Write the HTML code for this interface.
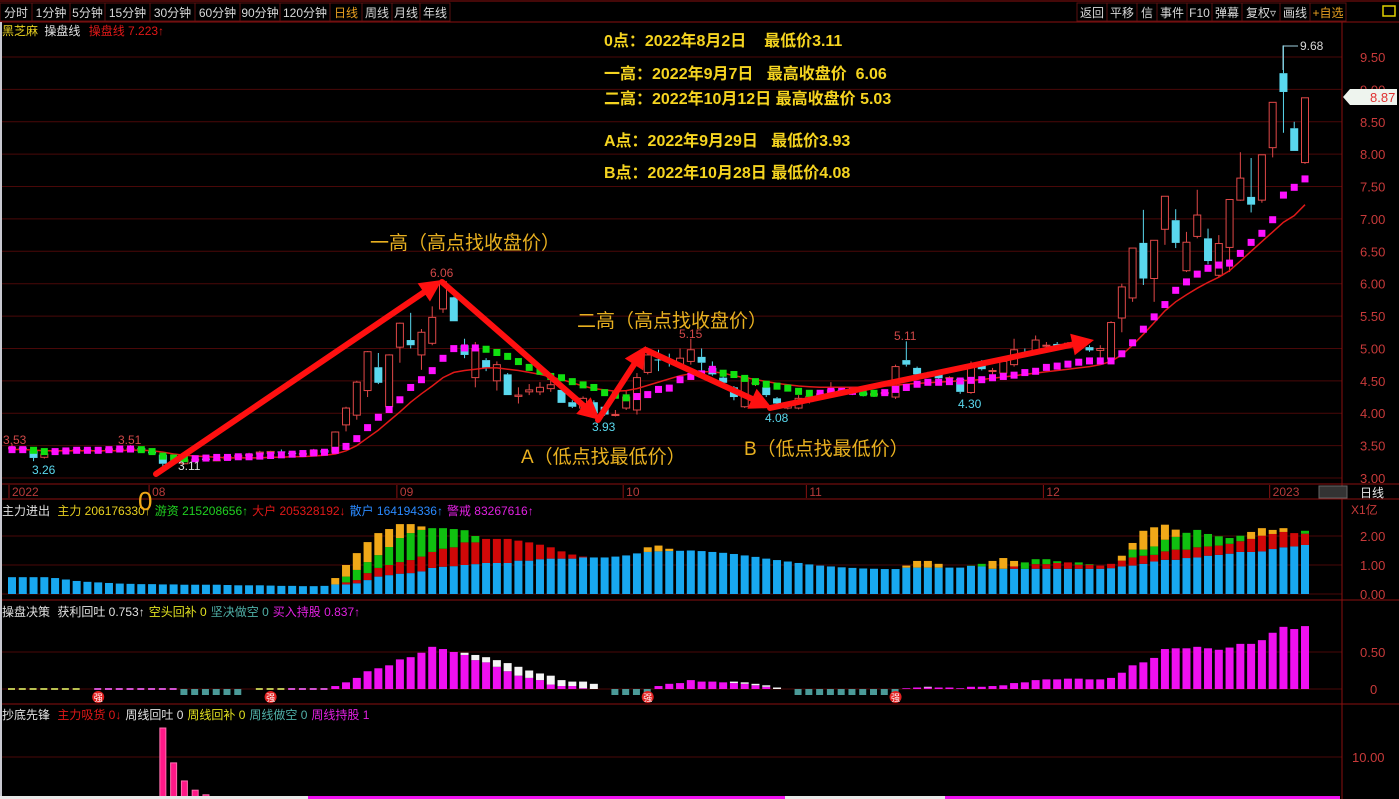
<!DOCTYPE html>
<html><head><meta charset="utf-8">
<style>
html,body{margin:0;padding:0;background:#000;width:1399px;height:799px;overflow:hidden;}
svg{display:block;font-family:"Liberation Sans","Noto Sans CJK SC",sans-serif;}
</style></head>
<body>
<svg id="chart" width="1399" height="799" viewBox="0 0 1399 799">
<rect x="0" y="0" width="1399" height="799" fill="#000"/>
<g id="grid"></g>
<g id="toolbar"></g>
<g id="candles"></g>
<g id="lines"></g>
<g id="p2"></g>
<g id="p3"></g>
<g id="p4"></g>
<g id="anno"></g>
</svg>
<script>
// ---------- data ----------
const opens=[3.45,3.47,3.42,3.32,3.41,3.42,3.43,3.44,3.42,3.42,3.44,3.44,3.46,3.41,3.36,3.24,3.22,3.28,3.30,3.28,3.29,3.33,3.35,3.37,3.38,3.41,3.39,3.37,3.36,3.43,3.40,3.82,3.97,4.35,4.71,4.10,5.02,5.13,4.90,5.08,5.61,5.79,5.05,4.55,4.82,4.50,4.60,4.26,4.33,4.33,4.38,4.36,4.17,4.08,4.17,4.10,3.97,4.08,4.05,4.63,4.83,4.82,4.75,4.80,4.87,4.70,4.55,4.40,4.10,4.47,4.40,4.23,4.08,4.08,4.18,4.26,4.32,4.36,4.32,4.32,4.28,4.30,4.25,4.82,4.70,4.60,4.60,4.54,4.53,4.32,4.76,4.65,4.62,4.75,4.92,4.95,5.05,5.07,5.03,5.00,5.02,4.97,4.84,5.47,5.78,6.63,6.08,6.84,6.98,6.20,6.73,6.70,6.13,6.56,7.29,7.34,7.29,8.10,9.25,8.40,7.87];
const highs=[3.53,3.48,3.43,3.40,3.44,3.45,3.45,3.45,3.44,3.47,3.48,3.51,3.48,3.42,3.37,3.28,3.30,3.31,3.31,3.31,3.35,3.36,3.39,3.42,3.42,3.44,3.41,3.40,3.45,3.44,3.72,4.10,4.50,4.96,4.93,4.91,5.40,5.55,5.30,5.65,6.06,5.80,5.15,5.10,4.85,4.80,4.62,4.40,4.45,4.48,4.52,4.38,4.20,4.26,4.20,4.12,4.05,4.35,4.62,5.00,4.98,4.92,5.00,5.15,5.00,4.80,4.58,4.42,4.58,4.52,4.45,4.25,4.18,4.28,4.30,4.32,4.48,4.40,4.38,4.36,4.34,4.34,4.75,5.11,4.72,4.64,4.62,4.57,4.55,4.80,4.82,4.70,4.82,5.15,5.00,5.20,5.10,5.10,5.10,5.06,5.05,5.05,5.42,6.00,6.55,7.14,6.67,7.35,7.15,6.80,7.45,6.85,6.75,7.30,8.03,7.94,7.99,8.80,9.68,8.50,8.87];
const lows=[3.43,3.41,3.26,3.30,3.39,3.40,3.41,3.41,3.39,3.41,3.42,3.43,3.40,3.37,3.11,3.20,3.21,3.25,3.27,3.26,3.28,3.31,3.33,3.35,3.36,3.39,3.36,3.35,3.35,3.38,3.39,3.72,3.90,4.25,4.45,4.05,4.78,5.00,4.67,5.05,5.55,5.42,4.85,4.40,4.65,4.35,4.28,4.15,4.28,4.28,4.33,4.16,4.08,4.05,3.93,3.96,3.95,4.05,3.98,4.60,4.65,4.72,4.70,4.75,4.65,4.58,4.45,4.20,4.08,4.42,4.25,4.08,4.06,4.06,4.15,4.24,4.30,4.30,4.28,4.26,4.25,4.27,4.22,4.72,4.58,4.55,4.52,4.50,4.30,4.30,4.66,4.60,4.60,4.72,4.88,4.92,4.98,4.98,5.00,4.96,4.95,4.85,4.84,5.25,5.72,5.98,5.72,6.60,6.55,6.18,6.70,6.30,6.10,6.18,7.28,7.10,7.25,7.95,8.33,8.05,7.85];
const closes=[3.47,3.43,3.31,3.37,3.42,3.43,3.44,3.42,3.41,3.45,3.45,3.46,3.41,3.38,3.22,3.25,3.28,3.29,3.28,3.28,3.33,3.35,3.36,3.40,3.41,3.40,3.37,3.38,3.43,3.39,3.71,4.08,4.48,4.95,4.47,4.90,5.39,5.05,5.25,5.48,6.03,5.42,4.90,5.00,4.70,4.75,4.28,4.28,4.36,4.40,4.44,4.16,4.10,4.23,4.00,3.98,3.98,4.25,4.55,4.90,4.82,4.80,4.85,4.98,4.78,4.60,4.47,4.25,4.55,4.47,4.28,4.15,4.15,4.23,4.26,4.30,4.36,4.33,4.35,4.28,4.30,4.32,4.72,4.75,4.60,4.62,4.54,4.55,4.33,4.75,4.68,4.66,4.80,4.98,4.90,5.13,5.05,5.02,5.08,5.02,4.97,5.00,5.40,5.95,6.55,6.08,6.67,7.35,6.63,6.64,7.06,6.35,6.62,7.30,7.63,7.22,7.99,8.80,8.96,8.05,8.87];
const fastLine=[3.43,3.43,3.42,3.40,3.40,3.41,3.42,3.42,3.42,3.43,3.44,3.44,3.43,3.40,3.33,3.30,3.29,3.29,3.30,3.31,3.31,3.32,3.32,3.33,3.34,3.35,3.36,3.37,3.38,3.39,3.42,3.48,3.60,3.77,3.93,4.05,4.20,4.39,4.51,4.65,4.84,4.99,5.00,5.00,4.98,4.93,4.87,4.79,4.70,4.64,4.56,4.54,4.48,4.43,4.39,4.31,4.27,4.23,4.25,4.28,4.36,4.38,4.51,4.56,4.60,4.67,4.61,4.59,4.53,4.48,4.44,4.41,4.38,4.33,4.30,4.30,4.33,4.33,4.33,4.31,4.30,4.31,4.36,4.39,4.44,4.47,4.47,4.48,4.49,4.50,4.51,4.54,4.56,4.58,4.62,4.64,4.70,4.72,4.75,4.78,4.80,4.80,4.80,4.91,5.08,5.29,5.48,5.67,5.89,6.02,6.14,6.23,6.28,6.31,6.46,6.63,6.77,6.98,7.36,7.48,7.61];
const slowLine=[3.44,3.44,3.43,3.42,3.42,3.42,3.42,3.42,3.42,3.42,3.42,3.43,3.43,3.42,3.40,3.37,3.35,3.34,3.33,3.32,3.31,3.31,3.31,3.31,3.32,3.32,3.33,3.33,3.34,3.35,3.37,3.42,3.50,3.62,3.74,3.88,4.02,4.17,4.30,4.42,4.55,4.63,4.66,4.68,4.70,4.70,4.68,4.66,4.63,4.60,4.56,4.52,4.47,4.42,4.38,4.36,4.34,4.35,4.38,4.43,4.48,4.53,4.58,4.61,4.64,4.64,4.62,4.58,4.55,4.52,4.49,4.46,4.44,4.42,4.41,4.40,4.40,4.40,4.40,4.40,4.41,4.42,4.43,4.45,4.46,4.47,4.48,4.49,4.50,4.51,4.52,4.54,4.56,4.58,4.60,4.62,4.64,4.66,4.68,4.70,4.72,4.75,4.80,4.90,5.05,5.22,5.40,5.58,5.72,5.83,5.93,6.02,6.10,6.20,6.35,6.50,6.65,6.80,6.95,7.05,7.22];
const priceTicks=[9.5,9.0,8.5,8.0,7.5,7.0,6.5,6.0,5.5,5.0,4.5,4.0,3.5,3.0];
const monthLabels=["2022","08","09","10","11","12","2023"];
const monthIdx=[0,13,36,57,74,96,117];
// panel 2 segments
const blueV=[0.58,0.58,0.58,0.58,0.55,0.5,0.45,0.42,0.4,0.38,0.36,0.35,0.34,0.34,0.33,0.33,0.32,0.32,0.32,0.32,0.31,0.3,0.3,0.3,0.29,0.28,0.28,0.27,0.27,0.28,0.33,0.33,0.37,0.48,0.6,0.65,0.7,0.72,0.78,0.9,0.94,0.96,1.0,1.03,1.07,1.07,1.07,1.15,1.15,1.2,1.22,1.22,1.22,1.26,1.26,1.26,1.29,1.33,1.4,1.45,1.47,1.48,1.49,1.5,1.48,1.45,1.42,1.38,1.33,1.28,1.22,1.17,1.12,1.07,1.02,0.98,0.95,0.92,0.9,0.88,0.87,0.86,0.86,0.91,0.91,0.91,0.91,0.91,0.91,0.97,0.95,0.87,0.87,0.87,0.87,0.87,0.87,0.87,0.87,0.87,0.87,0.87,0.89,0.95,0.98,1.04,1.12,1.18,1.18,1.24,1.26,1.32,1.35,1.39,1.45,1.45,1.47,1.55,1.61,1.64,1.69];
const redV=[0,0,0,0,0,0,0,0,0,0,0,0,0,0,0,0,0,0,0,0,0,0,0,0,0,0,0,0,0,0,0,0.07,0.11,0.24,0.3,0.35,0.4,0.45,0.51,0.55,0.62,0.65,0.78,0.75,0.83,0.83,0.83,0.69,0.63,0.5,0.39,0.25,0.14,0.03,0,0,0,0,0,0,0,0,0,0,0,0,0,0,0,0,0,0,0,0,0,0,0,0,0,0,0,0,0,0,0,0,0,0,0,0,0,0,0,0.08,0,0.16,0.16,0.2,0.22,0.14,0.14,0.11,0.15,0.2,0.28,0.28,0.23,0.29,0.35,0.29,0.35,0.32,0.32,0.34,0.37,0.45,0.54,0.52,0.53,0.46,0.39];
const greenV=[0,0,0,0,0,0,0,0,0,0,0,0,0,0,0,0,0,0,0,0,0,0,0,0,0,0,0,0,0,0,0,0.2,0.35,0.38,0.44,0.62,0.83,0.93,0.92,0.82,0.71,0.63,0.42,0.22,0,0,0,0,0,0,0,0,0,0,0,0,0,0,0,0,0,0,0,0,0,0,0,0,0,0,0,0,0,0,0,0,0,0,0,0,0,0,0,0,0,0,0,0,0,0.01,0.09,0,0,0,0.22,0.17,0.17,0.06,0,0.08,0.02,0,0,0,0.27,0.21,0.29,0.4,0.44,0.58,0.6,0.43,0.32,0.2,0.19,0,0,0,0,0,0.1];
const orangeV=[0,0,0,0,0,0,0,0,0,0,0,0,0,0,0,0,0,0,0,0,0,0,0,0,0,0,0,0,0,0,0.22,0.4,0.58,0.69,0.76,0.62,0.48,0.31,0.12,0,0,0,0,0,0,0,0,0,0,0,0,0,0,0,0,0,0,0,0,0.16,0.2,0.08,0,0,0,0,0,0,0,0,0,0,0,0,0,0,0,0,0,0,0,0,0,0.07,0.23,0.23,0.13,0,0,0,0,0.27,0.37,0.19,0,0,0,0,0,0,0,0,0,0.17,0.23,0.65,0.66,0.52,0.25,0,0,0,0,0,0,0.24,0.26,0.14,0.13,0,0];
const p2Ticks=[2,1,0];
// panel 3
const holdV=[0,0,0,0,0,0,0,0,0,0,0,0,0,0,0,0,0,0,0,0,0,0,0,0,0,0,0,0,0,0,0.04,0.09,0.15,0.24,0.28,0.32,0.4,0.43,0.49,0.57,0.54,0.5,0.46,0.39,0.36,0.3,0.24,0.18,0.15,0.12,0.06,0.04,0.04,0.01,0,0,0,0,0,0,0.04,0.07,0.08,0.12,0.1,0.1,0.09,0.08,0.07,0.05,0.03,0,0,0,0,0,0,0,0,0,0,0,0,0.01,0.02,0.02,0.02,0.02,0.01,0.03,0.03,0.04,0.05,0.08,0.09,0.12,0.13,0.13,0.14,0.14,0.13,0.13,0.15,0.22,0.32,0.36,0.42,0.54,0.55,0.55,0.57,0.55,0.53,0.56,0.61,0.61,0.66,0.76,0.84,0.81,0.85];
const whiteV=[0,0,0,0,0,0,0,0,0,0,0,0,0,0,0,0,0,0,0,0,0,0,0,0,0,0,0,0,0,0,0,0,0,0,0,0,0,0,0,0,0,0,0.03,0.07,0.07,0.09,0.11,0.12,0.1,0.09,0.12,0.08,0.06,0.09,0.07,0,0,0,0,0,0,0,0,0,0,0,0,0.02,0.02,0.02,0.02,0.02,0,0,0,0,0,0,0,0,0,0,0,0,0,0.01,0,0,0,0,0,0,0,0,0,0,0,0,0,0,0,0,0,0,0,0,0,0,0,0,0,0,0,0,0,0,0,0,0,0,0];
const markState="yyyyyyy-pppppppptttttt yyyppppp-------------------------tttto------------tttttttttty--------------------------------------";
const strongIdx=[8,24,59,82];
const p3Ticks=[0.5,0];
// panel 4
const bottomV=[0,0,0,0,0,0,0,0,0,0,0,0,0,0,16.9,8.6,4.3,2.1,1.0];
const p4Ticks=[10];

// ---------- helpers ----------
const NS="http://www.w3.org/2000/svg";
function mk(tag,attrs,parent,text){const e=document.createElementNS(NS,tag);for(const k in attrs)e.setAttribute(k,attrs[k]);if(text!==undefined)e.textContent=text;parent.appendChild(e);return e;}
const xOf=i=>12+i*10.775;
const yP=p=>478-(p-3)*64.77;
const y2=v=>594-v*29;
const y3=v=>689-v*74;
const y4=v=>799-v*4.2;
const G=id=>document.getElementById(id);
const n=closes.length;

// ---------- grid & frame ----------
const grid=G('grid');
priceTicks.forEach(p=>{const l=mk('line',{x1:0,x2:1342,y1:yP(p),y2:yP(p),stroke:'#4a0808','stroke-width':1},grid);

const t=mk('text',{x:1360,y:yP(p)+5,fill:'#c83a3a','font-size':13},grid,p.toFixed(2));
});
p2Ticks.forEach(v=>{const l=mk('line',{x1:0,x2:1342,y1:y2(v),y2:y2(v),stroke:'#4a0808'},grid);
const t=mk('text',{x:1360,y:y2(v)+5,fill:'#c83a3a','font-size':13},grid,v.toFixed(2));});
p3Ticks.forEach(v=>{const l=mk('line',{x1:0,x2:1342,y1:y3(v),y2:y3(v),stroke:'#4a0808'},grid);
const t=mk('text',{x:v===0?1370:1360,y:y3(v)+5,fill:'#c83a3a','font-size':13},grid,v===0?'0':v.toFixed(2));});
p4Ticks.forEach(v=>{const l=mk('line',{x1:0,x2:1342,y1:y4(v),y2:y4(v),stroke:'#4a0808'},grid);
const t=mk('text',{x:1352,y:y4(v)+5,fill:'#c83a3a','font-size':13},grid,v.toFixed(2));});
[22,484,499,600,704].forEach(y=>{mk('line',{x1:0,x2:1399,y1:y,y2:y,stroke:'#8a1010'},grid);});
mk('line',{x1:1342,x2:1342,y1:22,y2:799,stroke:'#8a1010'},grid);
mk('rect',{x:0,y:22,width:2,height:777,fill:'#c8c8d0'},grid);
mk('line',{x1:0,x2:1399,y1:1,y2:1,stroke:'#8a1010'},grid);
monthLabels.forEach((m,k)=>{const x=xOf(monthIdx[k]);mk('line',{x1:x-3,x2:x-3,y1:485,y2:498,stroke:'#8a1010'},grid);
const t=mk('text',{x:x,y:496,fill:'#b83a3a','font-size':12},grid,m);});
mk('rect',{x:1319,y:486,width:28,height:12,fill:'#333',stroke:'#666'},grid);
{const t=mk('text',{x:1360,y:497,fill:'#e8e8e8','font-size':12},grid,'日线');}
{const t=mk('text',{x:1351,y:514,fill:'#c83a3a','font-size':12},grid,'X1亿');}

// ---------- toolbar ----------
const tb=G('toolbar');
const leftBtns=[['分时',0,32],['1分钟',32,70],['5分钟',70,105],['15分钟',105,150],['30分钟',150,195],['60分钟',195,240],['90分钟',240,280],['120分钟',280,330],['日线',330,362],['周线',362,392],['月线',392,420],['年线',420,450]];
const rightBtns=[['返回',1077,1107],['平移',1107,1137],['信',1137,1157],['事件',1157,1187],['F10',1187,1212],['弹幕',1212,1242],['复权▿',1242,1280],['画线',1280,1310],['+自选',1310,1346]];
leftBtns.concat(rightBtns).forEach(b=>{const g=mk('g',{},tb);
mk('rect',{x:b[1],y:3,width:b[2]-b[1],height:18,fill:'#000',stroke:'#5a1010'},g);
mk('text',{x:(b[1]+b[2])/2,y:17,'text-anchor':'middle',fill:(b[0]==='日线'||b[0]==='+自选')?'#e8a020':'#d8d8d8','font-size':12},g,b[0]);});
mk('rect',{x:1383,y:6,width:12,height:10,fill:'none',stroke:'#e0d000','stroke-width':1.5},tb);
{const t=mk('text',{x:2,y:35,'font-size':12},tb);
mk('tspan',{fill:'#e8d020'},t,'黑芝麻 ');mk('tspan',{fill:'#e0e0e0',dx:3},t,'操盘线 ');mk('tspan',{fill:'#e01818',dx:5},t,'操盘线 7.223↑');}

// ---------- candles ----------
const cg=G('candles');
for(let i=0;i<n;i++){const x=xOf(i),up=closes[i]>=opens[i];const col=up?'#e04848':'#5ad8ee';
const top=yP(Math.max(opens[i],closes[i])),bot=yP(Math.min(opens[i],closes[i]));
const g=mk('g',{},cg);
mk('line',{x1:x,x2:x,y1:yP(highs[i]),y2:top,stroke:col},g);
mk('line',{x1:x,x2:x,y1:bot,y2:yP(lows[i]),stroke:col},g);
const h=Math.max(bot-top,1);
if(up)mk('rect',{x:x-3.5,y:top,width:7,height:h,fill:'#000',stroke:col,'stroke-width':1},g);
else mk('rect',{x:x-4,y:top,width:8,height:h,fill:col},g);}

// ---------- lines ----------
const lg=G('lines');
{let d='';slowLine.forEach((v,i)=>{d+=(i?'L':'M')+xOf(i).toFixed(1)+' '+yP(v).toFixed(1);});
const p=mk('path',{d:d,fill:'none',stroke:'#e01818','stroke-width':1.5},lg);}
fastLine.forEach((v,i)=>{const prev=i?fastLine[i-1]:v;const col=v>=prev?'#ff10ff':'#10e010';
const r=mk('rect',{x:xOf(i)-3.5,y:yP(v)-4,width:7,height:7,fill:col},lg);});

// ---------- panel 2 ----------
const p2=G('p2');
{const t=mk('text',{x:2,y:515,'font-size':12},p2);
mk('tspan',{fill:'#e0e0e0'},t,'主力进出  ');mk('tspan',{fill:'#e8d020',dx:4},t,'主力 206176330↑');mk('tspan',{fill:'#20d020',dx:4},t,'游资 215208656↑');mk('tspan',{fill:'#e01818',dx:4},t,'大户 205328192↓');mk('tspan',{fill:'#2a8aff',dx:4},t,'散户 164194336↑');mk('tspan',{fill:'#e020e0',dx:4},t,'警戒 83267616↑');}
for(let i=0;i<n;i++){const x=xOf(i)-4;let base=0;
[[blueV,'#18a8f0'],[redV,'#d00808'],[greenV,'#10c010'],[orangeV,'#f0a818']].forEach(s=>{const v=s[0][i]||0;if(v>0){
const r=mk('rect',{x:x,y:y2(base+v),width:8,height:y2(base)-y2(base+v),fill:s[1]},p2);base+=v;}});}

// ---------- panel 3 ----------
const p3=G('p3');
{const t=mk('text',{x:2,y:616,'font-size':12},p3);
mk('tspan',{fill:'#e0e0e0'},t,'操盘决策  ');mk('tspan',{fill:'#e0e0e0',dx:4},t,'获利回吐 0.753↑');mk('tspan',{fill:'#e0e020',dx:4},t,'空头回补 0');mk('tspan',{fill:'#50b0a8',dx:4},t,'坚决做空 0');mk('tspan',{fill:'#e020e0',dx:4},t,'买入持股 0.837↑');}
const markCols={y:'#b8c050',p:'#d050d0',t:'#4a9a98',o:'#f0a050'};
for(let i=0;i<n;i++){const x=xOf(i)-4;const h=holdV[i],w=whiteV[i];
if(h>0){const r=mk('rect',{x:x,y:y3(h),width:8,height:y3(0)-y3(h),fill:'#f010f0'},p3);}
if(w>0){const r=mk('rect',{x:x,y:y3(h+w),width:8,height:y3(h)-y3(h+w),fill:'#f4f4f4'},p3);}
const s=markState[i];if(h===0&&w===0&&markCols[s]){const r=mk('rect',{x:x,y:s==='t'?689:688,width:7,height:s==='t'?6:2,fill:markCols[s]},p3);}}
strongIdx.forEach(i=>{const g=mk('g',{},p3);
mk('circle',{cx:xOf(i),cy:697,r:6,fill:'#e02020'},g);mk('text',{x:xOf(i),y:701,'text-anchor':'middle','font-size':9,fill:'#fff'},g,'强');});

// ---------- panel 4 ----------
const p4=G('p4');
{const t=mk('text',{x:2,y:719,'font-size':12},p4);
mk('tspan',{fill:'#e0e0e0'},t,'抄底先锋  ');mk('tspan',{fill:'#e01818',dx:4},t,'主力吸货 0↓');mk('tspan',{fill:'#e0e0e0',dx:4},t,'周线回吐 0');mk('tspan',{fill:'#e0e020',dx:4},t,'周线回补 0');mk('tspan',{fill:'#50b0a8',dx:4},t,'周线做空 0');mk('tspan',{fill:'#e020e0',dx:4},t,'周线持股 1');}
bottomV.forEach((v,i)=>{if(v>0){const r=mk('rect',{x:xOf(i)-3,y:y4(v),width:6,height:y4(0)-y4(v),fill:'#ff1888',stroke:'#ff70b0','stroke-width':1},p4);}});
mk('rect',{x:0,y:796,width:308,height:3,fill:'#e8e8e8'},p4);
mk('rect',{x:308,y:796,width:477,height:3,fill:'#f010f0'},p4);
mk('rect',{x:785,y:796,width:160,height:3,fill:'#e8e8e8'},p4);
mk('rect',{x:945,y:796,width:395,height:3,fill:'#f010f0'},p4);

// ---------- annotations ----------
const an=G('anno');
function label(x,y,txt,col,size,name,bold){const t=mk('text',{x:x,y:y,fill:col,'font-size':size,'font-weight':bold?'bold':'normal'},an,txt);return t;}
label(3,444,'3.53','#d04848',12,'price-note');label(32,474,'3.26','#5ad8ee',12,'price-note');
label(118,444,'3.51','#d04848',12,'price-note');label(178,470,'3.11','#e0e0e0',12,'price-note');
label(430,277,'6.06','#d04848',12,'price-note');label(592,431,'3.93','#5ad8ee',12,'price-note');
label(679,338,'5.15','#d04848',12,'price-note');label(765,422,'4.08','#5ad8ee',12,'price-note');
label(894,340,'5.11','#d04848',12,'price-note');label(958,408,'4.30','#5ad8ee',12,'price-note');
mk('path',{d:'M1283 70 L1283 46 L1298 46',stroke:'#a0d0e0',fill:'none'},an);
label(1300,50,'9.68','#d8d8d8',12,'price-note');
{const g=mk('g',{},an);
mk('path',{d:'M1343 97 L1350 89 L1397 89 L1397 105 L1350 105 Z',fill:'#eef4ee'},g);mk('text',{x:1370,y:102,fill:'#e03030','font-size':13},g,'8.87');}
const notes=[['0点：2022年8月2日    最低价3.11',46],['一高：2022年9月7日   最高收盘价  6.06',79],['二高：2022年10月12日 最高收盘价 5.03',104],['A点：2022年9月29日   最低价3.93',146],['B点：2022年10月28日 最低价4.08',178]];
notes.forEach(nt=>{const t=label(604,nt[1],nt[0],'#f5d420',16,'info-note',true);t.setAttribute('xml:space','preserve');t.style.whiteSpace='pre';});
label(370,249,'一高（高点找收盘价）','#e8b020',19,'peak1-label');
label(577,327,'二高（高点找收盘价）','#e8b020',19,'peak2-label');
label(521,463,'A（低点找最低价）','#e8b020',19,'point-a-label');
label(744,455,'B（低点找最低价）','#e8b020',19,'point-b-label');
label(138,510,'0','#f0a818',26,'zero-point-label');
function arrow(x1,y1,x2,y2,name){const g=mk('g',{},an);
const a=Math.atan2(y2-y1,x2-x1),L=22,W=11;const bx=x2-L*Math.cos(a),by=y2-L*Math.sin(a);
mk('line',{x1:x1,y1:y1,x2:bx,y2:by,stroke:'#ff1010','stroke-width':6,'stroke-linecap':'round'},g);
mk('path',{d:`M${x2} ${y2} L${bx+W*Math.sin(a)} ${by-W*Math.cos(a)} L${bx-W*Math.sin(a)} ${by+W*Math.cos(a)} Z`,fill:'#ff1010'},g);}
arrow(156,474,442,280,'arrow-to-peak1');
arrow(442,282,600,420,'arrow-to-point-a');
arrow(598,420,646,346,'arrow-to-peak2');
arrow(646,350,772,408,'arrow-to-point-b');
arrow(770,408,1094,340,'arrow-breakout');
</script>
</body></html>
